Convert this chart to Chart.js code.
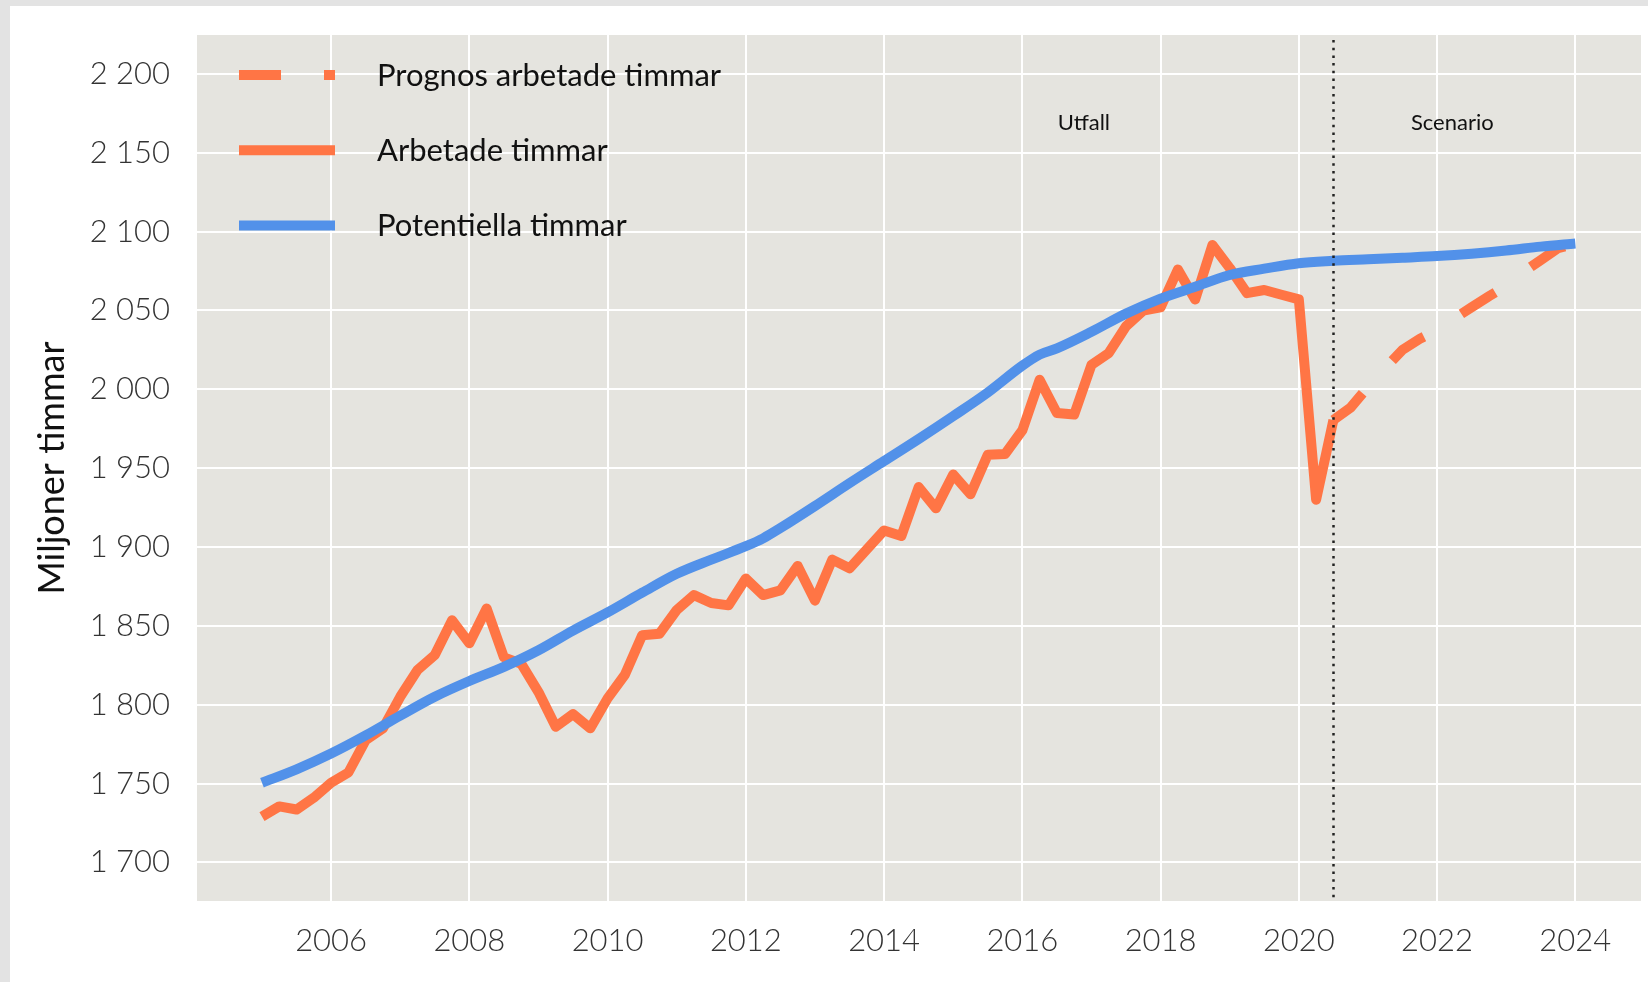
<!DOCTYPE html>
<html lang="sv">
<head>
<meta charset="utf-8">
<title>Arbetade och potentiella timmar</title>
<script src="https://cdn.jsdelivr.net/npm/chart.js@4.4.1/dist/chart.umd.min.js"></script>
<style>
  html, body { margin: 0; padding: 0; background: #e3e3e3; }
  .card { position: absolute; left: 10px; top: 6px; width: 1638px; height: 976px; background: #fff; }
</style>
</head>
<body>
<div class="card"><canvas id="timmar"></canvas></div>
<script>
// Kvartalsdata, första punkten är 2005 K1
const forstaKvartal = 2005;

// Arbetade timmar (utfall), 2005 K1 - 2020 K3
const arbetade = [
  1729, 1735.5, 1733.5, 1741, 1750.5, 1757, 1777.5, 1785,
  1805, 1822, 1831.5, 1853.5, 1839, 1861, 1830, 1826,
  1808, 1786, 1794, 1785, 1804, 1819, 1844, 1845,
  1860, 1869.5, 1864.5, 1863, 1880, 1869.5, 1872.5, 1888,
  1866, 1892, 1886.5, 1898.5, 1910.5, 1907, 1938, 1924.5,
  1946, 1933.5, 1958.5, 1959, 1974, 2006, 1985, 1984,
  2015.5, 2023, 2040, 2050, 2052, 2076, 2057, 2091.5,
  2077, 2061, 2063, 2060, 2057, 1930, 1980.5
];

// Prognos arbetade timmar, 2020 K3 - 2024 K1
const prognosStart = 2020.5;
const prognos = [
  1980.5, 1988.5, 2001.5, 2013.5, 2025, 2032, 2037.5, 2045,
  2052, 2059, 2065.5, 2074.5, 2082, 2089.5, 2092.5
];

// Potentiella timmar
const potentiellaAr = [
  2005, 2005.5, 2006, 2006.5, 2007, 2007.5, 2008, 2008.5, 2009, 2009.5,
  2010, 2010.5, 2011, 2011.5, 2012, 2012.25, 2012.5, 2013, 2013.5, 2014,
  2014.5, 2015, 2015.5, 2016, 2016.25, 2016.5, 2017, 2017.5, 2018, 2018.5,
  2019, 2019.5, 2020, 2020.5, 2021, 2021.5, 2022, 2022.5, 2023, 2023.5, 2024
];
const potentiella = [
  1750.5, 1759, 1769, 1780.5, 1793, 1805, 1815, 1824, 1834.5, 1847,
  1858.5, 1871, 1883, 1892, 1900.5, 1905.5, 1912, 1926, 1940.5, 1954.5,
  1968.5, 1983, 1998, 2015, 2022, 2026, 2036.5, 2048, 2057.5, 2065,
  2072.5, 2076.5, 2080, 2081.5, 2082.5, 2083.5, 2084.5, 2086, 2088, 2090.5, 2092.5
];

const xTicks = [2006, 2008, 2010, 2012, 2014, 2016, 2018, 2020, 2022, 2024];
const yTicks = [1700, 1750, 1800, 1850, 1900, 1950, 2000, 2050, 2100, 2150, 2200];

const etiketter = ['Prognos arbetade timmar', 'Arbetade timmar', 'Potentiella timmar'];
const omraden = ['Utfall', 'Scenario'];

const orange = '#ff7545';
const blue = '#5291e9';
const ytaFarg = '#e5e4df';

const kvartal = (start, n) => Array.from({ length: n }, (_, i) => start + i / 4);
const punkter = (xs, ys) => ys.map((y, i) => ({ x: xs[i], y: y }));

const formatTal = v => v >= 1000
  ? Math.floor(v / 1000) + ' ' + String(v % 1000).padStart(3, '0')
  : String(v);

Chart.defaults.font.family = 'Lato, "Open Sans", sans-serif';

// plot background
const bakgrund = {
  id: 'bakgrund',
  beforeDraw(chart) {
    const { ctx, chartArea: a } = chart;
    ctx.save();
    ctx.fillStyle = ytaFarg;
    ctx.fillRect(a.left, a.top, a.right - a.left, a.bottom - a.top);
    ctx.restore();
  }
};

// dotted line, area labels and legend
const markeringar = {
  id: 'markeringar',
  afterDatasetsDraw(chart) {
    const { ctx, chartArea: a, scales } = chart;
    const x = scales.x;
    ctx.save();

    const xp = Math.round(x.getPixelForValue(prognosStart)) + 0.5;
    ctx.strokeStyle = '#222';
    ctx.lineWidth = 2.5;
    ctx.setLineDash([2.5, 5.2]);
    ctx.beginPath();
    ctx.moveTo(xp, a.top + 5);
    ctx.lineTo(xp, a.bottom);
    ctx.stroke();
    ctx.setLineDash([]);

    ctx.fillStyle = '#111';
    ctx.font = '22px Lato';
    ctx.textAlign = 'center';
    ctx.textBaseline = 'middle';
    ctx.fillText(omraden[0], x.getPixelForValue(2016.89), a.top + 88);
    ctx.fillText(omraden[1], x.getPixelForValue(2022.22), a.top + 88);

    // legend
    const stilar = [
      { color: orange, dash: [42, 43] },
      { color: orange, dash: [] },
      { color: blue, dash: [] }
    ];
    ctx.font = '31px Lato';
    ctx.textAlign = 'left';
    ctx.lineCap = 'butt';
    etiketter.forEach((t, i) => {
      const y = a.top + 40 + i * 75.2;
      ctx.strokeStyle = stilar[i].color;
      ctx.lineWidth = 10;
      ctx.setLineDash(stilar[i].dash);
      ctx.beginPath();
      ctx.moveTo(a.left + 42, y);
      ctx.lineTo(a.left + 138, y);
      ctx.stroke();
      ctx.setLineDash([]);
      ctx.fillStyle = '#111';
      ctx.fillText(t, a.left + 180, y + 1);
    });
    ctx.restore();
  }
};

new Chart(document.getElementById('timmar'), {
  type: 'line',
  data: {
    datasets: [
      {
        label: etiketter[2],
        data: punkter(potentiellaAr, potentiella),
        borderColor: blue,
        borderWidth: 10,
        cubicInterpolationMode: 'monotone',
        pointRadius: 0
      },
      {
        label: etiketter[0],
        data: punkter(kvartal(prognosStart, prognos.length), prognos),
        borderColor: orange,
        borderWidth: 10,
        borderDash: [40, 44],
        tension: 0,
        pointRadius: 0
      },
      {
        label: etiketter[1],
        data: punkter(kvartal(forstaKvartal, arbetade.length), arbetade),
        borderColor: orange,
        borderWidth: 10,
        borderJoinStyle: 'round',
        tension: 0,
        pointRadius: 0
      }
    ]
  },
  options: {
    responsive: true,
    maintainAspectRatio: false,
    animation: false,
    layout: { padding: { top: 29, right: 7, left: 0, bottom: 0 } },
    plugins: {
      legend: { display: false },
      tooltip: { enabled: false }
    },
    scales: {
      x: {
        type: 'linear',
        min: 2004.06,
        max: 2024.95,
        afterBuildTicks: s => { s.ticks = xTicks.map(v => ({ value: v })); },
        afterFit: s => { s.height = 81; s.paddingLeft = 0; s.paddingRight = 0; },
        grid: { color: '#fff', lineWidth: 2, drawTicks: false },
        border: { display: false },
        ticks: {
          padding: 21,
          color: '#333',
          font: { size: 31, weight: 300 },
          maxRotation: 0,
          callback: v => String(v)
        }
      },
      y: {
        type: 'linear',
        min: 1675.5,
        max: 2224.7,
        afterBuildTicks: s => { s.ticks = yTicks.map(v => ({ value: v })); },
        afterFit: s => { s.width = 187; s.paddingTop = 0; s.paddingBottom = 0; },
        grid: { color: '#fff', lineWidth: 2, drawTicks: false },
        border: { display: false },
        title: {
          display: true,
          text: 'Miljoner timmar',
          color: '#111',
          font: { size: 36 },
          padding: { top: 21, bottom: 0 }
        },
        ticks: {
          padding: 27,
          color: '#333',
          font: { size: 31, weight: 300 },
          callback: v => formatTal(v)
        }
      }
    }
  },
  plugins: [bakgrund, markeringar]
});
</script>
</body>
</html>
